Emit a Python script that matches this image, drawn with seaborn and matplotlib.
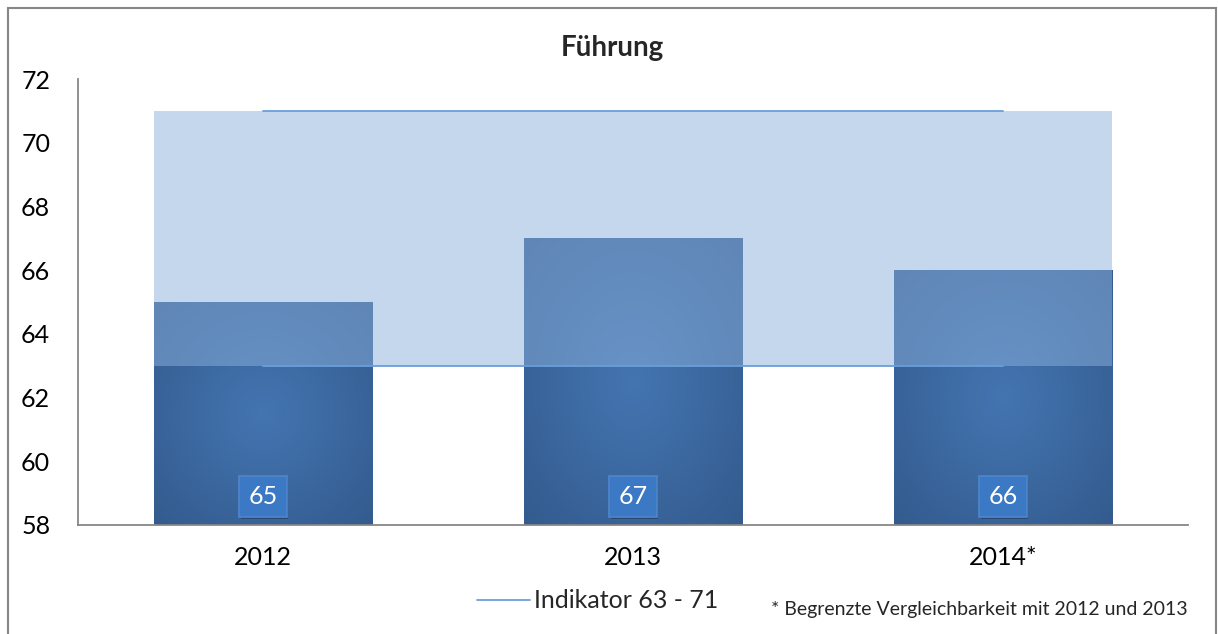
import numpy as np
import pandas as pd
import matplotlib
matplotlib.use("Agg")
import matplotlib.pyplot as plt
import matplotlib.patheffects as pe
import seaborn as sns
from matplotlib.lines import Line2D
from matplotlib.patches import Rectangle
from matplotlib.colors import to_rgb

# ---- data ----
years = ["2012", "2013", "2014*"]
values = [65, 67, 66]
indicator_low = 63
indicator_high = 71
y_ticks = [58, 60, 62, 64, 66, 68, 70, 72]
title = "Führung"
legend_label = "Indikator 63 - 71"
footnote = "* Begrenzte Vergleichbarkeit mit 2012 und 2013"

sns.set_theme(style="white")
plt.rcParams["font.family"] = ["Lato", "DejaVu Sans"]

W, H = 1218, 634
fig = plt.figure(figsize=(W / 100, H / 100), dpi=100)
ax = fig.add_axes([78 / W, 1 - 525 / H, (1188 - 78) / W, (525 - 79) / H])

df = pd.DataFrame({"year": years, "value": values})
bar_w = 0.59
sns.barplot(data=df, x="year", y="value", color="#345D91", width=bar_w,
            saturation=1, ax=ax, zorder=1, edgecolor="none")

ymin, ymax = y_ticks[0], y_ticks[-1]
ax.set_ylim(ymin, ymax)
ax.set_xlim(-0.5, len(years) - 0.5)

# radial gradient inside bars
c_center = np.array(to_rgb("#4475B1"))
c_edge = np.array(to_rgb("#335B8E"))
yy, xx = np.mgrid[0:1:120j, 0:1:120j]
r = np.sqrt(((xx - 0.5) / 0.5) ** 2 + ((yy - 0.5) / 0.5) ** 2) / np.sqrt(2)
r = np.clip(r, 0, 1)
grad = c_center[None, None, :] * (1 - r[..., None]) + c_edge[None, None, :] * r[..., None]
for p in list(ax.patches):
    x0, w, h = p.get_x(), p.get_width(), p.get_height()
    im = ax.imshow(grad, extent=[x0, x0 + w, ymin, h], aspect="auto",
                   origin="lower", zorder=1.5, interpolation="bilinear")
    im.set_clip_path(p)
ax.set_ylim(ymin, ymax)
ax.set_xlim(-0.5, len(years) - 0.5)

# indicator band
n = len(years)
band_x = [-bar_w / 2, (n - 1) + bar_w / 2]
ax.fill_between(band_x, indicator_low, indicator_high, color="#8BB1DD",
                alpha=0.5, linewidth=0, zorder=2)
line_color = "#6A9FDB"
ax.plot([0, n - 1], [indicator_low, indicator_low], color=line_color, lw=1.3, zorder=3)
ax.plot([0, n - 1], [indicator_high, indicator_high], color=line_color, lw=1.3, zorder=3)

# value labels
trans = matplotlib.transforms.blended_transform_factory(ax.transData, ax.transAxes)
for i, v in enumerate(values):
    t = ax.text(i, 0.065, str(v), transform=trans, ha="center", va="center",
                color="white", fontsize=18, zorder=5,
                bbox=dict(boxstyle="square,pad=0.36", fc="#3B79C5", ec="#4F86CB", lw=1.2))
    t.get_bbox_patch().set_path_effects(
        [pe.SimplePatchShadow(offset=(1, -2), shadow_rgbFace="black", alpha=0.25),
         pe.Normal()])

# axes styling
spine_c = "#878787"
for s in ["top", "right"]:
    ax.spines[s].set_visible(False)
for s in ["left", "bottom"]:
    ax.spines[s].set_color(spine_c)
    ax.spines[s].set_linewidth(1.3)
ax.set_yticks(y_ticks)
ax.set_yticklabels([str(t) for t in y_ticks])
ax.tick_params(axis="y", direction="in", length=6, width=1.3, color=spine_c,
               pad=20, labelsize=18, labelcolor="black")
ax.set_xticks(range(n))
ax.set_xticklabels(years)
ax.tick_params(axis="x", which="major", length=0, pad=15, labelsize=18, labelcolor="black")
ax.set_xticks([i + 0.5 for i in range(n)], minor=True)
ax.tick_params(axis="x", which="minor", direction="in", length=6, width=1.3, color=spine_c)
ax.set_xlabel("")
ax.set_ylabel("")
ax.grid(False)

# title
fig.text(612 / W, 1 - 56 / H, title, ha="center", va="baseline",
         fontsize=20, fontweight="bold")

# legend
handle = Line2D([], [], color=line_color, lw=1.3)
fig.legend([handle], [legend_label], loc="center left",
           bbox_to_anchor=(477 / W, 1 - 601 / H), frameon=False, fontsize=18,
           handlelength=2.1, handletextpad=0.2, borderpad=0, borderaxespad=0)

# footnote
fig.text(771 / W, 1 - 610 / H, footnote, ha="left", va="center", fontsize=14)

# chart border
fig.patches.append(Rectangle((7.5 / W, -0.05), (1215.5 - 7.5) / W, 1.05 - 7.5 / H,
                             transform=fig.transFigure, fill=False,
                             ec="#868686", lw=1.5))

fig.savefig("out.png", dpi=100)
